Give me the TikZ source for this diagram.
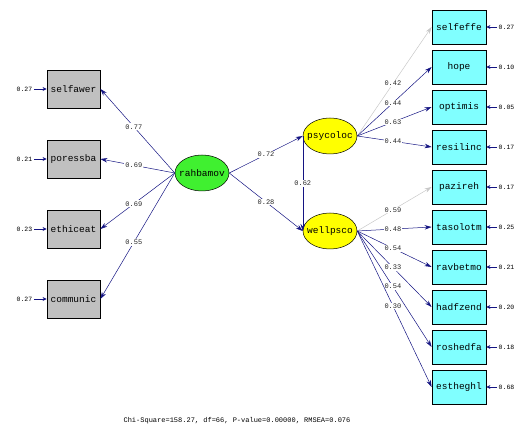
\documentclass[tikz,border=0pt]{standalone}
\usepackage{fontspec}
\setmonofont{Liberation Mono}
\usetikzlibrary{arrows.meta,shapes.geometric}
\definecolor{boxgray}{RGB}{192,192,192}
\definecolor{boxcyan}{RGB}{128,255,255}
\definecolor{latgreen}{RGB}{64,240,48}
\definecolor{latyellow}{RGB}{255,255,0}
\definecolor{pathblue}{RGB}{20,20,130}
\definecolor{fixgray}{RGB}{200,200,200}
\begin{document}
\begin{tikzpicture}[x=1pt,y=-1pt,font=\ttfamily\fontsize{9.5}{10}\selectfont,
  leftbox/.style={draw,line width=0.8pt,fill=boxgray,minimum width=53pt,minimum height=38pt,inner sep=0pt},
  rightbox/.style={draw,line width=0.8pt,fill=boxcyan,minimum width=54pt,minimum height=34pt,inner sep=0pt},
  latent/.style={ellipse,draw,line width=0.5pt,minimum width=54pt,minimum height=36pt,inner xsep=-4pt,inner ysep=0pt},
  errlab/.style={font=\ttfamily\fontsize{6.5}{7}\selectfont,inner sep=1.5pt},
  coef/.style={font=\ttfamily\fontsize{7}{8}\selectfont,text=black!85,fill=white,inner sep=1pt},
  path/.style={pathblue,line width=0.5pt,-{Stealth[length=7pt,width=4.5pt]}},
  fixed/.style={fixgray,line width=0.5pt,-{Stealth[length=7pt,width=4.5pt]}},
  err/.style={pathblue,line width=0.8pt,-{Stealth[length=4pt,width=4pt]}}]
  \useasboundingbox (0,0) rectangle (524,427);

  % Observed variables of rahbamov
  \node[leftbox] (selfawer) at (73.5,89) {selfawer};
  \node[leftbox] (poressba) at (73.5,159) {poressba};
  \node[leftbox] (ethiceat) at (73.5,229) {ethiceat};
  \node[leftbox] (communic) at (73.5,299) {communic};

  % Latent variables
  \node[latent,fill=latgreen] (rahbamov) at (202,173) {rahbamov};
  \node[latent,fill=latyellow] (psycoloc) at (330,136) {psycoloc};
  \node[latent,fill=latyellow] (wellpsco) at (330,231) {wellpsco};

  % Observed variables of psycoloc
  \node[rightbox] (selfeffe) at (459,27) {selfeffe};
  \node[rightbox] (hope) at (459,67) {hope};
  \node[rightbox] (optimis) at (459,107) {optimis};
  \node[rightbox] (resilinc) at (459,147) {resilinc};

  % Observed variables of wellpsco
  \node[rightbox] (pazireh) at (459,187) {pazireh};
  \node[rightbox] (tasolotm) at (459,227) {tasolotm};
  \node[rightbox] (ravbetmo) at (459,267) {ravbetmo};
  \node[rightbox] (hadfzend) at (459,307) {hadfzend};
  \node[rightbox] (roshedfa) at (459,347) {roshedfa};
  \node[rightbox] (estheghl) at (459,387) {estheghl};

  % Error variances, left
  \node[errlab,anchor=east] (eselfawer) at (34,89) {0.27};
  \node[errlab,anchor=east] (eporessba) at (34,159) {0.21};
  \node[errlab,anchor=east] (eethiceat) at (34,229) {0.23};
  \node[errlab,anchor=east] (ecommunic) at (34,299) {0.27};
  \foreach \v in {selfawer,poressba,ethiceat,communic}
    \draw[err] (e\v) -- (\v);

  % Error variances, right
  \node[errlab,anchor=west] (eselfeffe) at (497,27) {0.27};
  \node[errlab,anchor=west] (ehope) at (497,67) {0.10};
  \node[errlab,anchor=west] (eoptimis) at (497,107) {0.05};
  \node[errlab,anchor=west] (eresilinc) at (497,147) {0.17};
  \node[errlab,anchor=west] (epazireh) at (497,187) {0.17};
  \node[errlab,anchor=west] (etasolotm) at (497,227) {0.25};
  \node[errlab,anchor=west] (eravbetmo) at (497,267) {0.21};
  \node[errlab,anchor=west] (ehadfzend) at (497,307) {0.20};
  \node[errlab,anchor=west] (eroshedfa) at (497,347) {0.18};
  \node[errlab,anchor=west] (eestheghl) at (497,387) {0.68};
  \foreach \v in {selfeffe,hope,optimis,resilinc,pazireh,tasolotm,ravbetmo,hadfzend,roshedfa,estheghl}
    \draw[err] (e\v) -- (\v);

  % Loadings of rahbamov
  \draw[path] (rahbamov.west) -- node[coef,pos=0.55] {0.77} (selfawer.east);
  \draw[path] (rahbamov.west) -- node[coef,pos=0.55] {0.69} (poressba.east);
  \draw[path] (rahbamov.west) -- node[coef,pos=0.55] {0.69} (ethiceat.east);
  \draw[path] (rahbamov.west) -- node[coef,pos=0.55] {0.55} (communic.east);

  % Structural paths
  \draw[path] (rahbamov.east) -- node[coef] {0.72} (psycoloc.west);
  \draw[path] (rahbamov.east) -- node[coef] {0.28} (wellpsco.west);
  \draw[path] (psycoloc.west) -- node[coef] {0.62} (wellpsco.west);

  % Loadings of psycoloc
  \draw[fixed] (psycoloc.east) -- node[coef,pos=0.48] {0.42} (selfeffe.west);
  \draw[path] (psycoloc.east) -- node[coef,pos=0.48] {0.44} (hope.west);
  \draw[path] (psycoloc.east) -- node[coef,pos=0.48] {0.63} (optimis.west);
  \draw[path] (psycoloc.east) -- node[coef,pos=0.48] {0.44} (resilinc.west);

  % Loadings of wellpsco
  \draw[fixed] (wellpsco.east) -- node[coef,pos=0.48] {0.59} (pazireh.west);
  \draw[path] (wellpsco.east) -- node[coef,pos=0.48] {0.48} (tasolotm.west);
  \draw[path] (wellpsco.east) -- node[coef,pos=0.48] {0.54} (ravbetmo.west);
  \draw[path] (wellpsco.east) -- node[coef,pos=0.48] {0.33} (hadfzend.west);
  \draw[path] (wellpsco.east) -- node[coef,pos=0.48] {0.54} (roshedfa.west);
  \draw[path] (wellpsco.east) -- node[coef,pos=0.48] {0.30} (estheghl.west);

  % Fit statistics
  \node[font=\ttfamily\fontsize{7}{8}\selectfont] (fit) at (237,421)
    {Chi-Square=158.27, df=66, P-value=0.00000, RMSEA=0.076};
\end{tikzpicture}
\end{document}
